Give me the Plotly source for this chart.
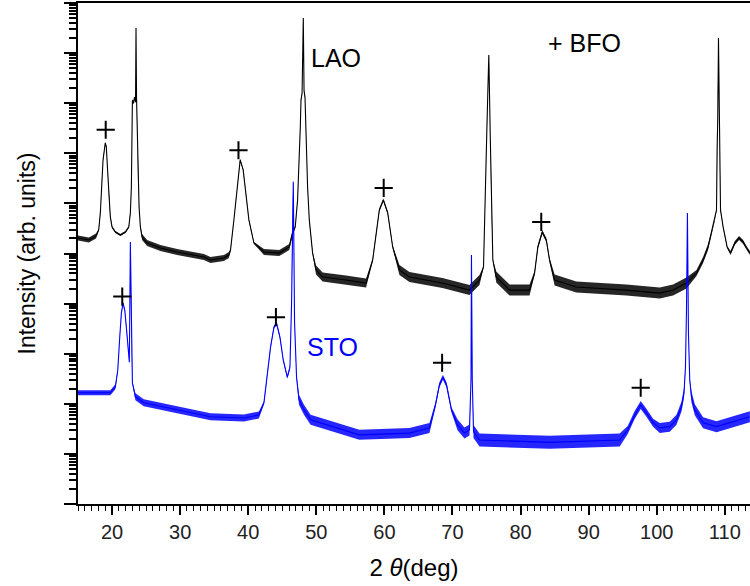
import plotly.graph_objects as go

# ---------------- data ----------------
# LAO substrate + BFO film (black)
lao_2theta = [15.0, 16.6, 17.65, 18.04, 18.28, 18.43, 18.68, 19.01, 19.16, 19.37,
              19.56, 19.75, 20.0, 20.49, 21.22, 21.96, 22.46, 22.69, 22.84, 22.94,
              22.99, 23.15, 23.3, 23.45, 23.52, 23.6, 23.72, 23.82, 23.97, 24.16,
              24.41, 25.15, 27.1, 29.56, 33.49, 34.46, 36.43, 37.16, 37.4, 37.9,
              38.38, 38.82, 39.26, 39.6, 40.1, 40.84, 42.31, 44.56, 46.03, 46.51,
              46.91, 47.25, 47.5, 47.65, 47.75, 47.91, 48.09, 48.2, 48.34, 48.49,
              48.72, 48.97, 49.46, 49.96, 50.93, 54.37, 57.31, 58.28, 58.78, 59.26,
              59.85, 60.49, 61.22, 62.21, 63.68, 68.53, 72.5, 73.97, 74.56, 74.85,
              75.04, 75.25, 75.34, 75.54, 75.69, 75.93, 76.43, 78.38, 81.32, 82.06,
              82.54, 83.19, 83.78, 84.26, 85.0, 88.19, 95.54, 100.44, 102.4, 104.37,
              105.84, 106.81, 107.54, 108.04, 108.53, 108.78, 108.87, 108.97, 109.07, 109.22,
              109.31, 109.37, 109.75, 110.34, 110.84, 111.47, 112.1, 112.69, 113.19, 113.68]
lao_intensity = [2.04e5, 1.86e5, 2.24e5, 2.95e5, 6.46e5, 2.14e6, 7.41e6, 1.62e7, 1.35e7, 4.07e6,
                 1.17e6, 5.37e5, 3.39e5, 2.69e5, 2.34e5, 2.69e5, 3.39e5, 6.46e5, 2.14e6, 2.57e7,
                 1.15e8, 1.0e8, 1.32e8, 1.05e8, 3.16e9, 1.26e8, 1.86e7, 2.57e6, 8.51e5, 3.39e5,
                 2.14e5, 1.62e5, 1.29e5, 1.07e5, 8.51e4, 7.41e4, 8.13e4, 9.33e4, 1.17e5, 4.68e5,
                 1.86e6, 7.41e6, 4.68e6, 1.86e6, 4.68e5, 1.62e5, 1.07e5, 1.02e5, 1.35e5, 2.57e5,
                 3.39e5, 1.17e6, 7.41e6, 3.31e7, 1.15e8, 1.58e8, 5.01e9, 1.78e8, 1.32e8, 2.57e7,
                 2.14e6, 4.68e5, 1.02e5, 4.68e4, 3.39e4, 2.95e4, 2.57e4, 7.41e4, 2.57e5, 7.41e5,
                 1.17e6, 6.46e5, 1.35e5, 4.68e4, 3.39e4, 2.57e4, 1.86e4, 2.95e4, 5.37e4, 1.17e6,
                 2.57e7, 3.31e8, 9.12e8, 2.57e7, 1.17e6, 7.41e4, 3.39e4, 1.86e4, 1.86e4, 4.07e4,
                 1.35e5, 2.69e5, 1.86e5, 7.41e4, 2.95e4, 2.14e4, 1.86e4, 1.62e4, 1.86e4, 2.57e4,
                 4.07e4, 7.41e4, 1.35e5, 2.57e5, 4.68e5, 7.41e5, 1.17e7, 5.25e7, 2.0e9, 2.57e7,
                 2.14e6, 7.41e5, 3.39e5, 1.35e5, 1.02e5, 1.62e5, 2.04e5, 1.70e5, 1.29e5, 1.02e5]
# noise-band half-width (decades) by 2-theta range: [start, end, half-width]
lao_noise = [[15, 18.0, 0.05], [18.0, 24.3, 0.02], [24.3, 37.3, 0.06],
             [37.3, 40.9, 0.02], [40.9, 46.6, 0.06], [46.6, 49.5, 0.02],
             [49.5, 58.2, 0.09], [58.2, 61.3, 0.03], [61.3, 74.5, 0.1],
             [74.5, 76.0, 0.02], [76.0, 82.0, 0.11], [82.0, 84.3, 0.04],
             [84.3, 104.5, 0.11], [104.5, 107.6, 0.06], [107.6, 110.4, 0.02],
             [110.4, 114, 0.04]]

# STO substrate + BFO film (blue)
sto_2theta = [15.0, 19.75, 20.49, 20.84, 21.13, 21.37, 21.62, 21.87, 22.1, 22.35,
              22.54, 22.69, 22.84, 22.99, 23.43, 24.66, 29.56, 34.46, 39.37, 41.57,
              42.31, 42.79, 43.28, 43.78, 44.16, 44.66, 45.15, 45.74, 46.13, 46.37,
              46.47, 46.62, 46.81, 47.1, 47.46, 48.19, 49.16, 56.32, 63.68, 66.62,
              67.5, 68.09, 68.6, 69.12, 69.85, 70.74, 71.76, 72.5, 72.72, 72.79,
              72.91, 73.09, 73.97, 84.26, 94.56, 95.74, 96.76, 97.65, 98.49, 99.46,
              100.44, 101.91, 102.9, 103.63, 104.01, 104.22, 104.37, 104.51, 104.66, 104.85,
              105.1, 105.59, 106.81, 108.78, 111.22, 113.68]
sto_intensity = [166, 166, 219, 468, 2138, 6457, 10230, 7413, 3388, 1349,
                 676, 169800, 1622, 263, 138, 105, 76, 55, 52, 60,
                 105, 339, 1349, 3388, 4074, 2138, 741, 339, 537, 10230,
                 512900, 2.69e6, 4074, 339, 120, 76, 48, 24, 26, 33,
                 95, 240, 339, 240, 76, 38, 26, 30, 302, 93330,
                 302, 28, 19, 17, 19, 30, 60, 95, 66, 42,
                 33, 35, 48, 87, 166, 537, 7413, 645700, 2570, 302,
                 138, 76, 42, 35, 44, 55]
sto_noise = [[15, 20.5, 0.05], [20.5, 23.3, 0.02], [23.3, 42.3, 0.07],
             [42.3, 47.4, 0.03], [47.4, 67.4, 0.1], [67.4, 69.9, 0.05],
             [69.9, 72.6, 0.11], [72.6, 73.0, 0.02], [73.0, 95.7, 0.13],
             [95.7, 99.5, 0.08], [99.5, 104.2, 0.1], [104.2, 104.9, 0.02],
             [104.9, 114, 0.11]]

# BFO peak marks ("+")
bfo_lao_2theta = [19.07, 38.57, 59.9, 83.04]
bfo_lao_level = [2.95e7, 1.15e7, 2.04e6, 4.27e5]
bfo_sto_2theta = [21.5, 44.07, 68.48, 97.65]
bfo_sto_level = [1.38e4, 5.37e3, 660, 209]

x_ticks = [20, 30, 40, 50, 60, 70, 80, 90, 100, 110]

# ---------------- figure ----------------
FONT = "Liberation Sans, Arial, sans-serif"
BLACK = "#000000"
BLUE = "#0000ff"


def halfwidth(x, table):
    for a, b, w in table:
        if a <= x < b:
            return w
    return table[-1][2]


def band(xs, ys, table):
    ns = [halfwidth(x, table) for x in xs]
    up = [y * 10 ** n for y, n in zip(ys, ns)]
    lo = [y / 10 ** n for y, n in zip(ys, ns)]
    return xs + xs[::-1], up + lo[::-1]


fig = go.Figure()

for xs, ys, tb, col, fcol in [
    (lao_2theta, lao_intensity, lao_noise, BLACK, "rgba(0,0,0,0.85)"),
    (sto_2theta, sto_intensity, sto_noise, BLUE, "rgba(0,0,255,0.85)"),
]:
    bx, by = band(xs, ys, tb)
    fig.add_trace(go.Scatter(x=bx, y=by, mode="lines", fill="toself",
                             fillcolor=fcol, line=dict(width=0),
                             hoverinfo="skip", showlegend=False))
    fig.add_trace(go.Scatter(x=xs, y=ys, mode="lines",
                             line=dict(color=col, width=1.1),
                             showlegend=False))

fig.add_trace(go.Scatter(x=bfo_lao_2theta + bfo_sto_2theta,
                         y=bfo_lao_level + bfo_sto_level, mode="markers",
                         marker=dict(symbol="cross-thin", size=13,
                                     line=dict(width=2, color=BLACK)),
                         showlegend=False))

major_y = [10 ** k for k in range(0, 11)]
minor_y = [m * 10 ** k for k in range(0, 10) for m in range(2, 10)]

fig.update_layout(
    width=750, height=586,
    margin=dict(l=78, r=0, t=3, b=82),
    paper_bgcolor="white", plot_bgcolor="white",
    font=dict(family=FONT, color=BLACK),
    showlegend=False,
    xaxis=dict(
        range=[15, 113.7], tickvals=x_ticks, ticks="outside", ticklen=9,
        tickwidth=1.5, tickcolor=BLACK, showline=True, linewidth=2,
        linecolor=BLACK, mirror=True, showgrid=False, zeroline=False,
        tickfont=dict(size=20, color="#222222"),
        minor=dict(dtick=1, tick0=0, ticks="outside", ticklen=5,
                   tickwidth=1, tickcolor=BLACK, showgrid=False),
        title=dict(text="2 <i>θ</i>(deg)", font=dict(size=24), standoff=17),
    ),
    yaxis=dict(
        type="log", range=[0, 10], tickvals=major_y, showticklabels=False,
        ticks="outside", ticklen=12, tickwidth=2, tickcolor=BLACK,
        showline=True, linewidth=2, linecolor=BLACK, showgrid=False,
        zeroline=False,
        minor=dict(tickvals=minor_y, ticks="outside", ticklen=7,
                   tickwidth=1.5, tickcolor=BLACK, showgrid=False),
        title=dict(text="Intensity (arb. units)", font=dict(size=23),
                   standoff=22),
    ),
    annotations=[
        dict(x=52.9, y=8.9, text="LAO", showarrow=False,
             font=dict(size=25, color=BLACK)),
        dict(x=89.4, y=9.2, text="+ BFO", showarrow=False,
             font=dict(size=25, color=BLACK)),
        dict(x=52.35, y=3.13, text="STO", showarrow=False,
             font=dict(size=25, color=BLUE)),
    ],
)

fig.write_html("out.html", config={"displayModeBar": False},
               post_script="document.body.style.margin='0px';")
